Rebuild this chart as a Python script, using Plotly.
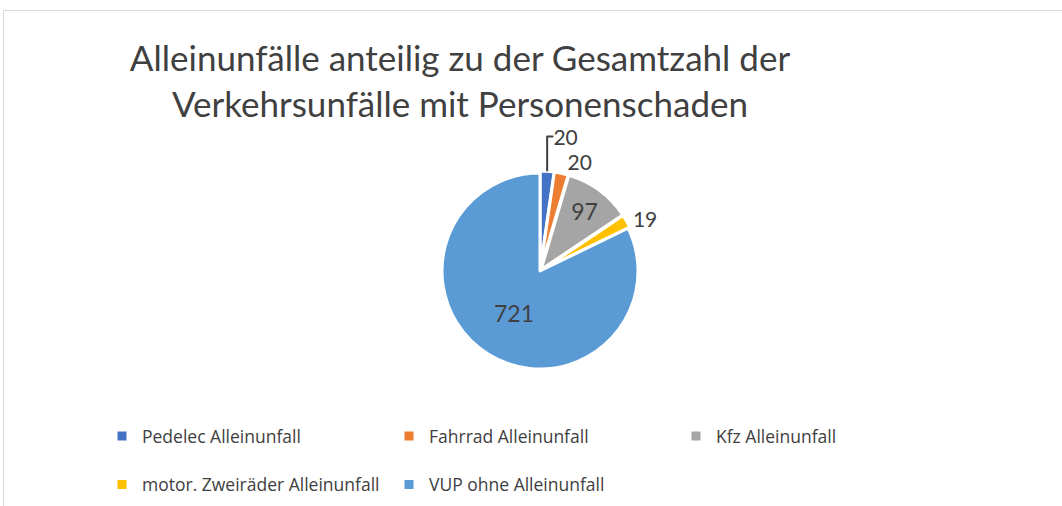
import plotly.graph_objects as go

labels = ["Pedelec Alleinunfall", "Fahrrad Alleinunfall", "Kfz Alleinunfall",
          "motor. Zweiräder Alleinunfall", "VUP ohne Alleinunfall"]
values = [20, 20, 97, 19, 721]
colors = ["#4472C4", "#ED7D31", "#A5A5A5", "#FFC000", "#5B9BD5"]
text_positions = ["outside", "outside", "inside", "outside", "inside"]
pulls = [0.02, 0.02, 0.02, 0.02, 0.0]
title_text = "Alleinunfälle anteilig zu der Gesamtzahl der<br>Verkehrsunfälle mit Personenschaden"

W, H = 1062, 506
FONT = "Lato, 'Open Sans', sans-serif"

cx, cy, R = 540, 271, 98
half = R * (1 + max(pulls))

# legend entries get a blank second line so that rows are spaced like the original
legend_labels = [l + "<br> " for l in labels]

fig = go.Figure(go.Pie(
    labels=legend_labels, values=values, sort=False, direction="clockwise", rotation=0,
    marker=dict(colors=colors, line=dict(color="white", width=3)),
    pull=pulls,
    textinfo="value", textposition=text_positions,
    insidetextfont=dict(family=FONT, size=23, color="#404040"),
    outsidetextfont=dict(family=FONT, size=21, color="#404040"),
    insidetextorientation="horizontal",
    hovertemplate="%{customdata}: %{value}<extra></extra>",
    customdata=labels,
    domain=dict(x=[(cx - half) / W, (cx + half) / W],
                y=[(H - cy - half) / H, (H - cy + half) / H]),
))

fig.update_layout(
    width=W, height=H, margin=dict(l=0, r=0, t=0, b=0, autoexpand=False),
    paper_bgcolor="white", plot_bgcolor="white",
    title=dict(text=title_text, x=460 / W, xanchor="center", y=(H - 71) / H, yanchor="middle",
               font=dict(family=FONT, size=35, color="#404040")),
    legend=dict(orientation="h", x=102 / W, xanchor="left", y=(H - 418) / H, yanchor="top",
                entrywidth=242, entrywidthmode="pixels", valign="top",
                font=dict(family="'Open Sans', sans-serif", size=17.5, color="#404040"),
                traceorder="normal"),
    shapes=[dict(type="rect", xref="paper", yref="paper",
                 x0=3.5 / W, x1=1.02, y0=-0.02, y1=(H - 10.5) / H,
                 line=dict(color="#D9D9D9", width=1), fillcolor="rgba(0,0,0,0)")],
)

fig.write_html("out.html", config={"displayModeBar": False},
               post_script="document.body.style.margin='0';")
